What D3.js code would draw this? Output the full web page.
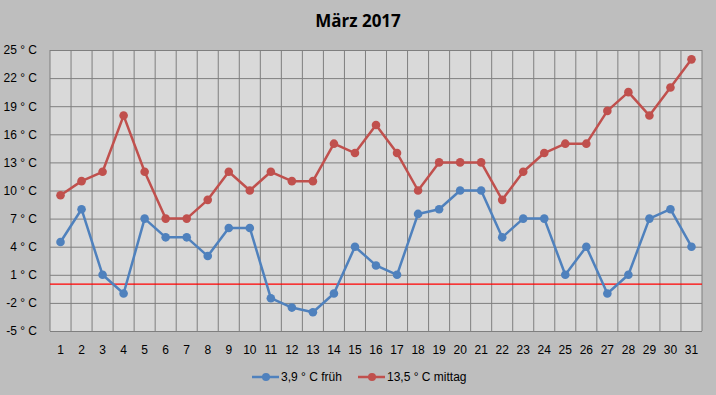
<!DOCTYPE html>
<html><head><meta charset="utf-8">
<script src="https://cdn.jsdelivr.net/npm/d3@7"></script>
<style>body{margin:0;background:#bebebe}svg{display:block}</style>
</head><body>
<script>
const days = d3.range(1, 32).map(String);
const frueh = [4.5,8,1,-1,7,5,5,3,6,6,-1.5,-2.5,-3,-1,4,2,1,7.5,8,10,10,5,7,7,1,4,-1,1,7,8,4];
const mittag = [9.5,11,12,18,12,7,7,9,12,10,12,11,11,15,14,17,14,10,13,13,13,9,12,14,15,15,18.5,20.5,18,21,24];
const yTicks = [25,22,19,16,13,10,7,4,1,-2,-5];
const seriesNames = ["3,9 ° C früh", "13,5 ° C mittag"];
const colors = ["#4f81bd", "#c0504d"];

const W = 716, H = 395;
const m = {left: 50, right: 14, top: 50, bottom: 64};
const svg = d3.select("body").append("svg").attr("width", W).attr("height", H);
svg.append("rect").attr("width", W).attr("height", H).attr("fill", "#bebebe");

const x = d3.scaleBand().domain(days).range([m.left, W - m.right]);
const y = d3.scaleLinear().domain([-5, 25]).range([H - m.bottom, m.top]);

svg.append("rect").attr("x", m.left).attr("y", m.top)
  .attr("width", W - m.left - m.right).attr("height", H - m.top - m.bottom)
  .attr("fill", "#d9d9d9");

const font = "'Liberation Sans', Arial, sans-serif";
const yAxis = d3.axisLeft(y).tickValues(yTicks).tickSize(-(W - m.left - m.right)).tickPadding(13)
  .tickFormat(d => d + " ° C");
const gy = svg.append("g").attr("transform", `translate(${m.left},0)`).call(yAxis);
gy.select(".domain").remove();
gy.selectAll("line").attr("stroke", "#7f7f7f").attr("stroke-width", 1);
gy.selectAll("text").attr("font-family", font).attr("font-size", 12).attr("fill", "#000");

const bounds = days.map(d => x(d)).concat([W - m.right]);
svg.append("g").selectAll("line").data(bounds).join("line")
  .attr("x1", d => d).attr("x2", d => d).attr("y1", m.top).attr("y2", H - m.bottom)
  .attr("stroke", "#7f7f7f").attr("stroke-width", 1);

const xAxis = d3.axisBottom(x).tickSize(0).tickPadding(14);
const gx = svg.append("g").attr("transform", `translate(0,${H - m.bottom})`).call(xAxis);
gx.select(".domain").remove();
gx.selectAll("text").attr("font-family", font).attr("font-size", 12).attr("fill", "#000");

svg.append("line").attr("x1", m.left).attr("x2", W - m.right)
  .attr("y1", y(0)).attr("y2", y(0)).attr("stroke", "#ff0000").attr("stroke-width", 1.2);

const cx = d => x(d) + x.bandwidth() / 2;
const line = d3.line().x((v, i) => cx(days[i])).y(v => y(v));
[frueh, mittag].forEach((data, k) => {
  svg.append("path").datum(data).attr("d", line).attr("fill", "none")
    .attr("stroke", colors[k]).attr("stroke-width", 2.5).attr("stroke-linejoin", "round");
  svg.append("g").selectAll("circle").data(data).join("circle")
    .attr("cx", (v, i) => cx(days[i])).attr("cy", v => y(v)).attr("r", 4.3)
    .attr("fill", colors[k]);
});

svg.append("text").attr("x", 358).attr("y", 27).attr("text-anchor", "middle")
  .attr("font-family", "'Open Sans', 'Liberation Sans', sans-serif").attr("font-weight", "bold")
  .attr("font-size", 17).attr("fill", "#000").text("März 2017");

const legX = [252, 358];
seriesNames.forEach((n, k) => {
  const g = svg.append("g").attr("transform", `translate(${legX[k]},377)`);
  g.append("line").attr("x1", 0).attr("x2", 27).attr("y1", 0).attr("y2", 0)
    .attr("stroke", colors[k]).attr("stroke-width", 2.5);
  g.append("circle").attr("cx", 14).attr("cy", 0).attr("r", 4).attr("fill", colors[k]);
  g.append("text").attr("x", 29).attr("y", 4).attr("font-family", font)
    .attr("font-size", 12).attr("fill", "#000").text(n);
});
</script>
</body></html>
